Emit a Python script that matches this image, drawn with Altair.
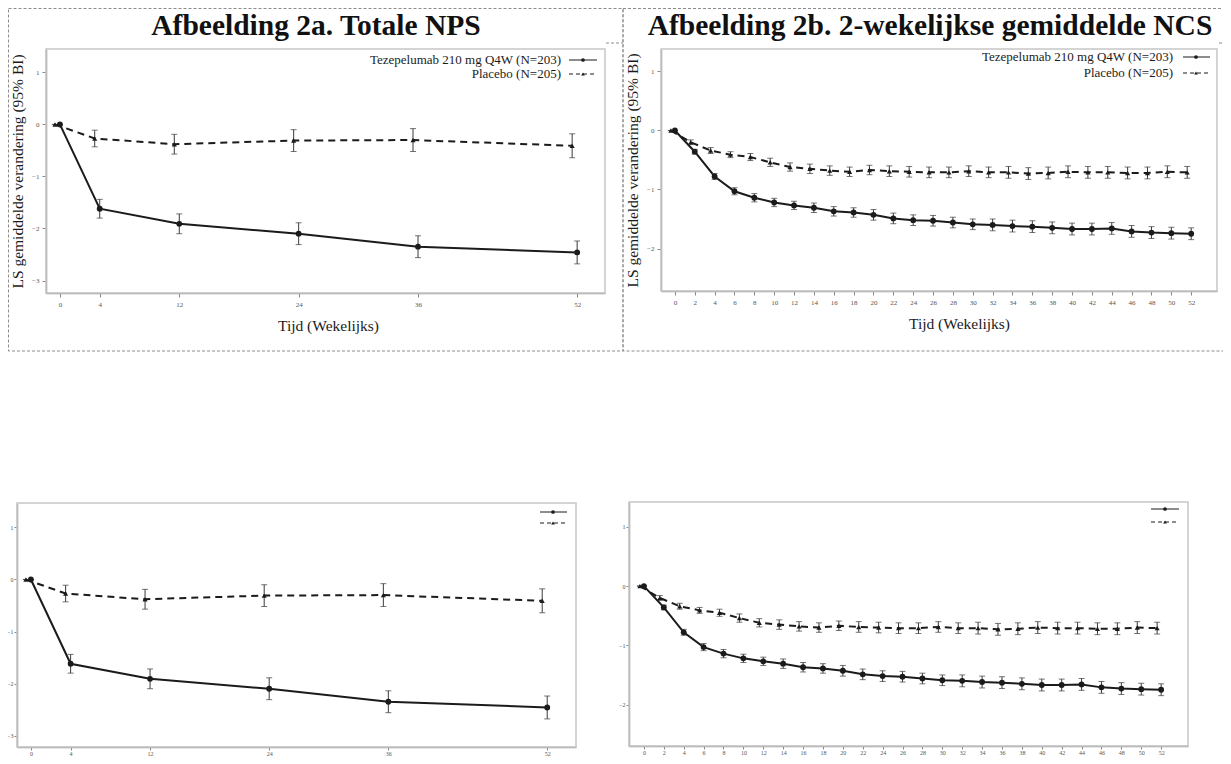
import altair as alt
import pandas as pd

# ---------------- data ----------------
weeks_a = [0, 4, 12, 24, 36, 52]
tez_a = [0.0, -1.62, -1.91, -2.10, -2.35, -2.46]
tez_a_ci = [0.0, 0.18, 0.19, 0.21, 0.21, 0.22]
pla_a = [0.0, -0.27, -0.38, -0.31, -0.30, -0.41]
pla_a_ci = [0.0, 0.16, 0.19, 0.21, 0.22, 0.23]

weeks_b = [0, 2, 4, 6, 8, 10, 12, 14, 16, 18, 20, 22, 24, 26, 28, 30,
           32, 34, 36, 38, 40, 42, 44, 46, 48, 50, 52]
tez_b = [0.0, -0.36, -0.78, -1.03, -1.14, -1.22, -1.27, -1.31, -1.37, -1.39,
         -1.43, -1.49, -1.52, -1.53, -1.56, -1.59, -1.60, -1.62, -1.63, -1.65,
         -1.67, -1.67, -1.66, -1.71, -1.73, -1.74, -1.75]
tez_b_ci = [0.0, 0.04, 0.05, 0.06, 0.07, 0.07, 0.07, 0.08, 0.08, 0.08,
            0.09, 0.09, 0.09, 0.09, 0.09, 0.09, 0.10, 0.10, 0.10, 0.10,
            0.10, 0.10, 0.10, 0.10, 0.10, 0.10, 0.10]
pla_b = [0.0, -0.20, -0.34, -0.41, -0.45, -0.54, -0.62, -0.65, -0.68, -0.70,
         -0.67, -0.69, -0.70, -0.71, -0.71, -0.69, -0.71, -0.71, -0.73, -0.72,
         -0.70, -0.71, -0.71, -0.72, -0.72, -0.70, -0.71]
pla_b_ci = [0.0, 0.04, 0.05, 0.05, 0.06, 0.07, 0.07, 0.08, 0.08, 0.08,
            0.08, 0.09, 0.09, 0.09, 0.09, 0.09, 0.09, 0.10, 0.10, 0.10,
            0.10, 0.10, 0.10, 0.10, 0.10, 0.10, 0.10]

yticks_a = [-3, -2, -1, 0, 1]
yticks_b = [-2, -1, 0, 1]

title_a = "Afbeelding 2a. Totale NPS"
title_b = "Afbeelding 2b. 2-wekelijkse gemiddelde NCS"
x_title = "Tijd (Wekelijks)"
y_title = "LS gemiddelde verandering (95% BI)"
legend_labels = ["Tezepelumab 210 mg Q4W (N=203)", "Placebo (N=205)"]

# ---------------- styling / layout ----------------
SERIF = "Liberation Serif"
INK = "#1b1b1b"
ERR = "#3a3a3a"
BOX = "#8c8c8c"
FRAME = "#c6c6c6"
W, H = 1215, 748          # whole drawing (plot area == whole chart)
M = 8                     # page margin; page px -> chart px


def pg(v):
    return v - M


def one_row():
    return alt.Chart(pd.DataFrame({"k": [0]}))


def build_df(weeks, tez, tez_ci, pla, pla_ci):
    rows = []
    for arm, vals, ci in (("tez", tez, tez_ci), ("pla", pla, pla_ci)):
        for w, m, e in zip(weeks, vals, ci):
            rows.append({"week": w, "mean": m, "lo": m - e, "hi": m + e, "arm": arm})
    return pd.DataFrame(rows)


def rect(x1, x2, y1, y2, **kw):
    return one_row().mark_rect(**kw).encode(
        x=alt.value(x1), x2=alt.value(x2), y=alt.value(y1), y2=alt.value(y2))


def hrule(x1, x2, y, **kw):
    return one_row().mark_rule(**kw).encode(
        x=alt.value(x1), x2=alt.value(x2), y=alt.value(y))


def panel(df, box, xdom, ydom, xticks, yticks, dodge, small=False,
          xt=None, yt=None):
    """box = (left, top, right, bottom) of the plot frame, page px."""
    l, t, r, b = (pg(v) for v in box)
    xkw = dict(orient="bottom", offset=b - H, values=xticks, grid=False,
               labelFlush=False, labelOverlap=False, title=None)
    ykw = dict(orient="left", offset=-l, values=yticks, grid=False, title=None)
    if small:
        xkw.update(labelFontSize=6, tickSize=3, labelPadding=0)
        ykw.update(labelFontSize=6, tickSize=3, labelPadding=1)
    if xt is not None:
        xkw.update(title=x_title, titleX=pg(xt[0]), titleY=pg(xt[1]) - b,
                   titleAlign="center", titleBaseline="middle")
    if yt is not None:
        ykw.update(title=y_title, titleX=pg(yt[0]) - l, titleY=pg(yt[1]),
                   titleAlign="center", titleBaseline="middle")
    xs = alt.Scale(domain=xdom, range=[l, r], nice=False, zero=False)
    ys = alt.Scale(domain=ydom, range=[b, t], nice=False, zero=False)
    X = alt.X("week:Q", scale=xs, axis=alt.Axis(**xkw))

    def Y(f):
        return alt.Y(f"{f}:Q", scale=ys, axis=alt.Axis(**ykw))

    layers = [rect(l, r, t, b, fillOpacity=0, stroke=FRAME, strokeWidth=1.5)]
    base = alt.Chart(df)
    for arm, off, dash, shape, size in (("pla", dodge, [7, 5], "triangle-up", 26),
                                        ("tez", 0, None, "circle", 34)):
        sub = base.transform_filter(alt.datum.arm == arm)
        lk = dict(color=INK, strokeWidth=2, xOffset=off)
        if dash:
            lk["strokeDash"] = dash
        layers.append(sub.mark_line(**lk).encode(x=X, y=Y("mean")))
        layers.append(sub.mark_rule(color=ERR, strokeWidth=1, xOffset=off).encode(
            x=X, y=Y("lo"), y2="hi:Q"))
        for f in ("lo", "hi"):
            layers.append(sub.mark_tick(orient="horizontal", size=6, thickness=1,
                                        color=ERR, xOffset=off).encode(x=X, y=Y(f)))
        layers.append(sub.mark_point(filled=True, shape=shape, size=size, color=INK,
                                     opacity=1, xOffset=off).encode(x=X, y=Y("mean")))
    return alt.layer(*layers)


def legend(text_right, ys, x1, x2, xm, with_text):
    out = []
    for label, yv, dash, shape in zip(legend_labels, ys, (None, [4, 3]),
                                      ("circle", "triangle-up")):
        c = alt.Chart(pd.DataFrame({"label": [label]}))
        if with_text:
            out.append(c.mark_text(align="right", baseline="middle", font=SERIF,
                                   fontSize=13, color=INK).encode(
                text="label:N", x=alt.value(pg(text_right)), y=alt.value(pg(yv))))
        rk = dict(color=INK, strokeWidth=1)
        if dash:
            rk["strokeDash"] = dash
        out.append(c.mark_rule(**rk).encode(
            x=alt.value(pg(x1)), x2=alt.value(pg(x2)), y=alt.value(pg(yv))))
        out.append(c.mark_point(filled=True, shape=shape, size=14, color=INK,
                                opacity=1).encode(x=alt.value(pg(xm)), y=alt.value(pg(yv))))
    return out


def heading(text, cx, baseline_y):
    return alt.Chart(pd.DataFrame({"t": [text]})).mark_text(
        font=SERIF, fontSize=29.5, fontWeight="bold", color="#111",
        align="center", baseline="alphabetic").encode(
        text="t:N", x=alt.value(pg(cx)), y=alt.value(pg(baseline_y)))


df_a = build_df(weeks_a, tez_a, tez_a_ci, pla_a, pla_a_ci)
df_b = build_df(weeks_b, tez_b, tez_b_ci, pla_b, pla_b_ci)

dashed = dict(fillOpacity=0, stroke=BOX, strokeWidth=1, strokeDash=[3, 2])
seg = dict(color=BOX, strokeWidth=1, strokeDash=[3, 2])
decor = [
    rect(0.5, pg(623), 0.5, pg(351), **dashed),
    rect(pg(623), pg(1240), 0.5, pg(351), **dashed),
    hrule(pg(606), pg(623), pg(43), **seg),
    hrule(pg(1219), pg(1240), pg(43), **seg),
    heading(title_a, 316, 35),
    heading(title_b, 930, 35),
]

pA = panel(df_a, (46, 49, 605, 293), [-1.4, 54.8], [-3.24, 1.45], weeks_a, yticks_a, -5,
           xt=(328, 325), yt=(17, 171))
pB = panel(df_b, (661, 49, 1217, 291), [-1.4, 54.6], [-2.72, 1.38], weeks_b, yticks_b, -4,
           xt=(959, 323), yt=(632, 170))
pC = panel(df_a, (17, 503, 576, 747), [-1.4, 54.9], [-3.22, 1.47], weeks_a, yticks_a, -5,
           small=True)
pD = panel(df_b, (629, 502, 1188, 746), [-1.5, 54.7], [-2.70, 1.42], weeks_b, yticks_b, -4,
           small=True)

legends = (legend(561, [60, 74], 569, 597, 583, True)
           + legend(1173, [57, 73], 1183, 1210, 1196, True)
           + legend(None, [512, 523], 540, 567, 553, False)
           + legend(None, [509, 522], 1151, 1179, 1165, False))

chart = (
    alt.layer(*decor, pA, pB, pC, pD, *legends)
    .resolve_scale(x="independent", y="independent")
    .resolve_axis(x="independent", y="independent")
    .properties(width=W, height=H, padding=0, background="white",
                autosize=alt.AutoSizeParams(type="none"))
    .configure_view(strokeWidth=0)
    .configure_axis(labelFont=SERIF, labelFontSize=7, labelColor="#555",
                    tickColor="#888", tickSize=4, tickWidth=1,
                    domainColor="#9a9a9a", domainWidth=1.5, grid=False,
                    labelPadding=3, titleFont=SERIF, titleFontSize=15.5,
                    titleFontWeight="normal", titleColor=INK)
)

chart.save("out.html", embed_options={"renderer": "svg", "actions": False})
